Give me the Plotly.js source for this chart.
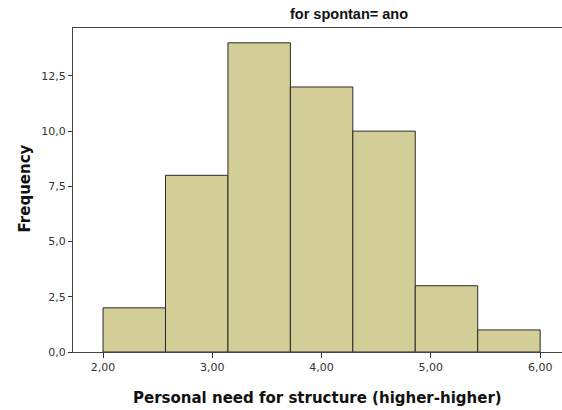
<!DOCTYPE html>
<html>
<head>
<meta charset="utf-8">
<script src="https://cdn.plot.ly/plotly-3.0.1.min.js"></script>
<style>html,body{margin:0;padding:0;background:#fff;}#chart{width:562px;height:410px;}</style>
</head>
<body>
<div id="chart"></div>
<script>
// Histogram bin edges (equal width 4/7 between 2,00 and 6,00)
var binEdges = [2.0, 2.5714, 3.1429, 3.7143, 4.2857, 4.8571, 5.4286, 6.0];
var frequencies = [2, 8, 14, 12, 10, 3, 1];
var xTickVals = [2, 3, 4, 5, 6];
var yTickVals = [0, 2.5, 5, 7.5, 10, 12.5];
var chartTitle = "for spontan= ano";
var xTitle = "Personal need for structure (higher-higher)";
var yTitle = "Frequency";

var centers = [], widths = [];
for (var i = 0; i < frequencies.length; i++) {
  centers.push((binEdges[i] + binEdges[i + 1]) / 2);
  widths.push(binEdges[i + 1] - binEdges[i]);
}

var font = "Arial, 'Liberation Sans', sans-serif";
var wide = "'DejaVu Sans', Verdana, sans-serif";

var trace = {
  type: "bar",
  x: centers,
  y: frequencies,
  width: widths,
  marker: { color: "#D3CE97", line: { color: "#2b2b2b", width: 1 } },
  hoverinfo: "skip"
};

var layout = {
  width: 562, height: 410,
  margin: { l: 73, r: 0, t: 28, b: 58 },
  paper_bgcolor: "#fff", plot_bgcolor: "#fff",
  separators: ",.",
  showlegend: false,
  font: { family: wide, size: 11, color: "#333" },
  xaxis: {
    range: [1.725, 6.2],
    tickvals: xTickVals, tickformat: ".2f",
    ticks: "outside", ticklen: 5, tickcolor: "#333",
    showgrid: false, zeroline: false,
    showline: true, linecolor: "#444", linewidth: 1, mirror: true,
    tickfont: { family: wide, size: 11, color: "#333" }
  },
  yaxis: {
    range: [0, 14.67],
    tickvals: yTickVals, tickformat: ".1f",
    ticks: "outside", ticklen: 4, tickcolor: "#333",
    showgrid: false, zeroline: false,
    showline: true, linecolor: "#444", linewidth: 1,
    tickfont: { family: wide, size: 11, color: "#333" }
  },
  annotations: [
    { text: "<b>" + chartTitle + "</b>", xref: "paper", yref: "paper",
      x: 0.564, y: 1.042, xanchor: "center", yanchor: "middle", showarrow: false,
      font: { family: font, size: 14.5, color: "#111" } },
    { text: "<b>" + xTitle + "</b>", xref: "paper", yref: "paper",
      x: 0.5, y: -0.142, xanchor: "center", yanchor: "middle", showarrow: false,
      font: { family: wide, size: 15, color: "#111" } },
    { text: "<b>" + yTitle + "</b>", xref: "paper", yref: "paper",
      x: -0.098, y: 0.505, xanchor: "center", yanchor: "middle", showarrow: false,
      textangle: -90, font: { family: wide, size: 15, color: "#111" } }
  ]
};

Plotly.newPlot("chart", [trace], layout, { displayModeBar: false, staticPlot: true });
</script>
</body>
</html>
